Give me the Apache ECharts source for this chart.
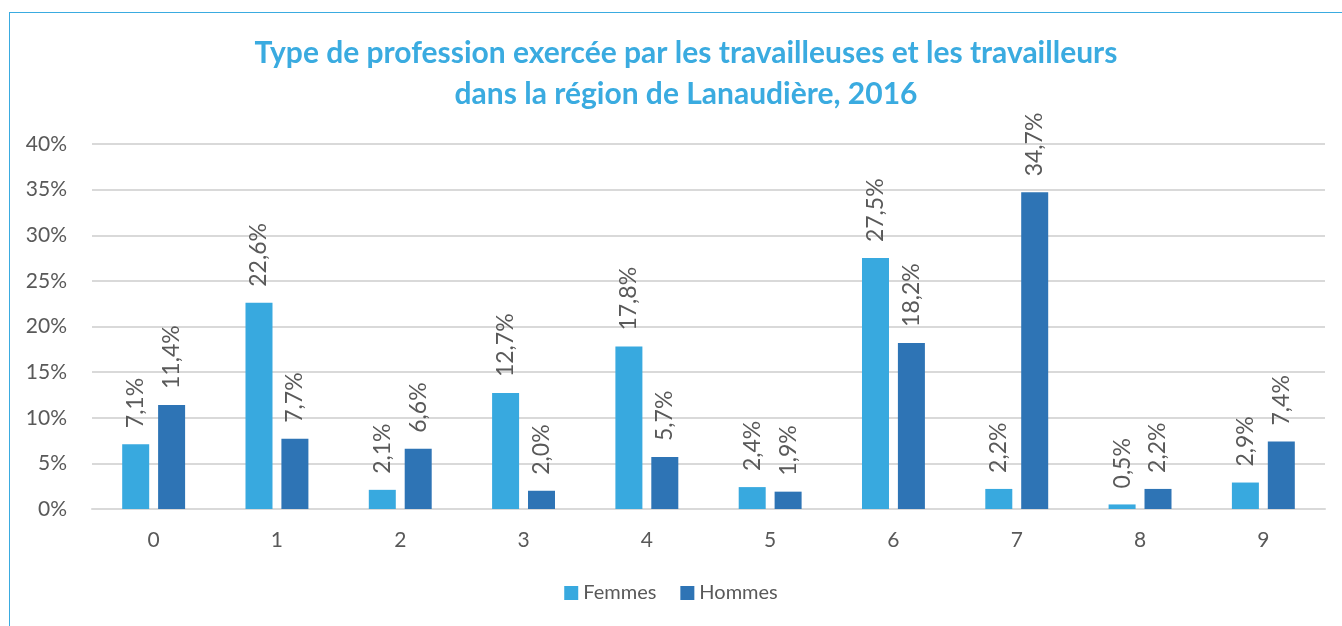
<!DOCTYPE html>
<html>
<head>
<meta charset="utf-8">
<script src="https://cdn.jsdelivr.net/npm/echarts@6/dist/echarts.min.js"></script>
<style>
  html, body { margin: 0; padding: 0; background: #fff; }
  #frame { position: absolute; left: 9px; top: 12px; width: 1340px; height: 640px; border: 1px solid #3AABE0; box-sizing: border-box; }
  #chart { width: 1342px; height: 626px; }
</style>
</head>
<body>
<div id="frame"></div>
<div id="chart"></div>
<script>
const categories = ['0', '1', '2', '3', '4', '5', '6', '7', '8', '9']
const femmes = [7.1, 22.6, 2.1, 12.7, 17.8, 2.4, 27.5, 2.2, 0.5, 2.9]
const hommes = [11.4, 7.7, 6.6, 2.0, 5.7, 1.9, 18.2, 34.7, 2.2, 7.4]
const yTicks = [0, 5, 10, 15, 20, 25, 30, 35, 40]

const fontFamily = 'Lato, "Open Sans", sans-serif'
const textColor = '#595959'

function fmt(v) {
  return v.toFixed(1).replace('.', ',') + '%'
}

const labelStyle = {
  show: true,
  position: 'top',
  rotate: 90,
  align: 'left',
  verticalAlign: 'middle',
  distance: 16,
  color: textColor,
  fontSize: 23,
  fontFamily: fontFamily,
  formatter: p => fmt(p.value)
}

const chart = echarts.init(document.getElementById('chart'))
chart.setOption({
  animation: false,
  title: {
    text: 'Type de profession exercée par les travailleuses et les travailleurs\ndans la région de Lanaudière, 2016',
    left: 681,
    top: 28,
    textAlign: 'center',
    textStyle: {
      color: '#3AABE0',
      fontSize: 30,
      fontWeight: 'bold',
      fontFamily: fontFamily,
      lineHeight: 41
    }
  },
  legend: {
    bottom: 18,
    left: 'center',
    itemWidth: 14,
    itemHeight: 14,
    itemGap: 24,
    icon: 'rect',
    textStyle: { color: textColor, fontSize: 20, fontFamily: fontFamily },
    data: ['Femmes', 'Hommes']
  },
  grid: {
    left: 92,
    right: 17,
    top: 144,
    bottom: 117,
    containLabel: false
  },
  xAxis: {
    type: 'category',
    data: categories,
    axisLine: { lineStyle: { color: '#D9D9D9', width: 2 } },
    axisTick: { show: false },
    axisLabel: { color: textColor, fontSize: 21, fontFamily: fontFamily, margin: 21 }
  },
  yAxis: {
    type: 'value',
    min: yTicks[0],
    max: yTicks[yTicks.length - 1],
    interval: 5,
    axisLine: { show: false },
    axisTick: { show: false },
    splitLine: { lineStyle: { color: '#D9D9D9', width: 2 } },
    axisLabel: {
      color: textColor,
      fontSize: 21,
      fontFamily: fontFamily,
      margin: 25,
      formatter: v => v + '%'
    }
  },
  series: [
    {
      name: 'Femmes',
      type: 'bar',
      data: femmes,
      barWidth: 27,
      barGap: '33%',
      itemStyle: { color: '#38A9DF' },
      label: labelStyle
    },
    {
      name: 'Hommes',
      type: 'bar',
      data: hommes,
      barWidth: 27,
      itemStyle: { color: '#2E74B5' },
      label: labelStyle
    }
  ]
})
</script>
</body>
</html>
